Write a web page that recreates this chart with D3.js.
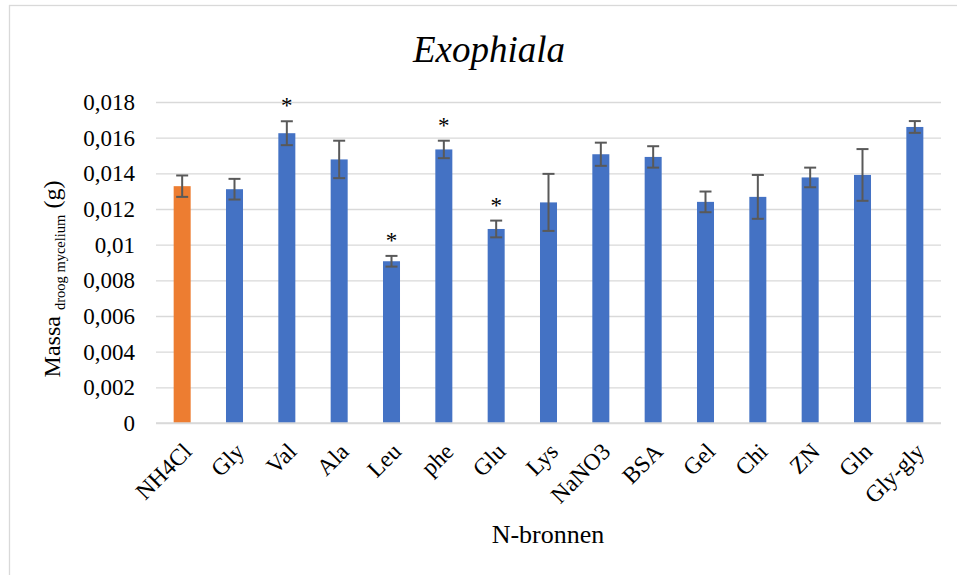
<!DOCTYPE html>
<html>
<head>
<meta charset="utf-8">
<script src="https://cdn.jsdelivr.net/npm/d3@7"></script>
<style>
  html, body { margin: 0; padding: 0; background: #fff; }
  svg { display: block; }
  text { font-family: "Liberation Serif", "Times New Roman", serif; fill: #000; }
</style>
</head>
<body>
<svg id="chart" width="957" height="575"></svg>
<script>
// Dry mycelium mass of Exophiala grown on different nitrogen sources
const categories = ["NH4Cl", "Gly", "Val", "Ala", "Leu", "phe", "Glu", "Lys", "NaNO3", "BSA", "Gel", "Chi", "ZN", "Gln", "Gly-gly"];
const means = [0.01328, 0.01311, 0.01625, 0.01478, 0.00907, 0.01534, 0.01088, 0.01237, 0.01507, 0.01492, 0.0124, 0.01268, 0.01377, 0.01391, 0.0166];
const errors = [0.0006, 0.00058, 0.00067, 0.00105, 0.0003, 0.00049, 0.00047, 0.0016, 0.00065, 0.0006, 0.00058, 0.00123, 0.00055, 0.00145, 0.00033];
const significant = ["Val", "Leu", "phe", "Glu"];
const yTicks = [0, 0.002, 0.004, 0.006, 0.008, 0.01, 0.012, 0.014, 0.016, 0.018];
const yTickLabels = ["0", "0,002", "0,004", "0,006", "0,008", "0,01", "0,012", "0,014", "0,016", "0,018"];
const referenceCategory = "NH4Cl";

const rows = categories.map((c, i) => ({ cat: c, mean: means[i], err: errors[i] }));

const svg = d3.select("#chart");

// outer chart-area border
svg.append("rect")
  .attr("x", 9.5).attr("y", 5.5)
  .attr("width", 960).attr("height", 580)
  .attr("fill", "none").attr("stroke", "#d9d9d9").attr("stroke-width", 1.3);

const plotLeft = 156, plotRight = 941, plotTop = 102, plotBottom = 423;

const x = d3.scaleBand().domain(categories).range([plotLeft, plotRight])
  .paddingInner(0.675).paddingOuter(0.3375);
const y = d3.scaleLinear().domain([0, 0.018]).range([plotBottom, plotTop]);

// gridlines + tick labels
const yAxis = d3.axisLeft(y).tickValues(yTicks)
  .tickFormat((d, i) => yTickLabels[i])
  .tickSize(-(plotRight - plotLeft)).tickPadding(21);
const gy = svg.append("g").attr("transform", `translate(${plotLeft},0)`).call(yAxis);
gy.select(".domain").remove();
gy.selectAll(".tick line").attr("stroke", "#d9d9d9").attr("stroke-width", 1.4);
gy.selectAll(".tick text")
  .attr("font-family", "Liberation Serif")
  .attr("font-size", 23).attr("fill", "#000");

// bars
svg.append("g").selectAll("rect").data(rows).join("rect")
  .attr("x", d => x(d.cat))
  .attr("width", x.bandwidth())
  .attr("y", d => y(d.mean))
  .attr("height", d => y(0) - y(d.mean))
  .attr("fill", d => d.cat === referenceCategory ? "#ED7D31" : "#4472C4");

// error bars
const eb = svg.append("g").attr("stroke", "#595959").attr("stroke-width", 2);
const cap = 6;
rows.forEach(d => {
  const cx = x(d.cat) + x.bandwidth() / 2;
  const y1 = y(d.mean + d.err), y2 = y(d.mean - d.err);
  eb.append("line").attr("x1", cx).attr("x2", cx).attr("y1", y1).attr("y2", y2);
  eb.append("line").attr("x1", cx - cap).attr("x2", cx + cap).attr("y1", y1).attr("y2", y1);
  eb.append("line").attr("x1", cx - cap).attr("x2", cx + cap).attr("y1", y2).attr("y2", y2);
});

// significance markers
svg.append("g").selectAll("text")
  .data(rows.filter(d => significant.includes(d.cat))).join("text")
  .attr("x", d => x(d.cat) + x.bandwidth() / 2)
  .attr("y", d => y(d.mean + d.err) - 8)
  .attr("text-anchor", "middle")
  .attr("font-size", 23)
  .text("*");

// category axis line and labels
svg.append("line")
  .attr("x1", plotLeft).attr("x2", plotRight).attr("y1", plotBottom).attr("y2", plotBottom)
  .attr("stroke", "#d9d9d9").attr("stroke-width", 1.4);

svg.append("g").selectAll("text").data(categories).join("text")
  .attr("transform", d => `translate(${x(d) + x.bandwidth() / 2 + 11},${plotBottom + 30}) rotate(-45)`)
  .attr("text-anchor", "end")
  .attr("font-size", 23.5)
  .text(d => d);

// title
svg.append("text")
  .attr("x", 489).attr("y", 62)
  .attr("text-anchor", "middle")
  .attr("font-size", 37).attr("font-style", "italic")
  .text("Exophiala");

// x axis title
svg.append("text")
  .attr("x", 548).attr("y", 543)
  .attr("text-anchor", "middle")
  .attr("font-size", 26)
  .text("N-bronnen");

// y axis title with subscript
const yt = svg.append("text")
  .attr("transform", "translate(60,279) rotate(-90)")
  .attr("text-anchor", "middle")
  .attr("font-size", 24);
yt.append("tspan").text("Massa ");
yt.append("tspan").attr("font-size", 14.5).attr("dy", 5).text("droog mycelium");
yt.append("tspan").attr("dy", -5).text(" (g)");
</script>
</body>
</html>
